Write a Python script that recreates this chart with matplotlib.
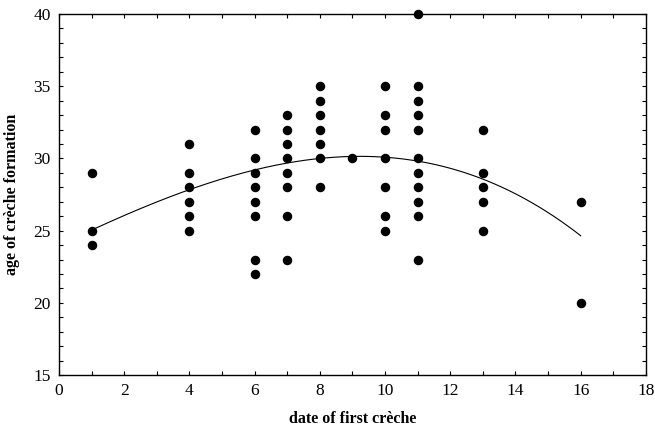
import numpy as np
import matplotlib
matplotlib.use("Agg")
import matplotlib.pyplot as plt
from matplotlib.ticker import MultipleLocator

# date of first creche (x) and age of creche formation (y)
date_first = [1, 1, 1,
              4, 4, 4, 4, 4, 4,
              6, 6, 6, 6, 6, 6, 6, 6,
              7, 7, 7, 7, 7, 7, 7, 7,
              8, 8, 8, 8, 8, 8, 8,
              9,
              10, 10, 10, 10, 10, 10, 10,
              11, 11, 11, 11, 11, 11, 11, 11, 11, 11, 11,
              13, 13, 13, 13, 13,
              16, 16]
age_formation = [29, 25, 24,
                 31, 29, 28, 27, 26, 25,
                 32, 30, 29, 28, 27, 26, 23, 22,
                 33, 32, 31, 30, 29, 28, 26, 23,
                 35, 34, 33, 32, 31, 30, 28,
                 30,
                 35, 33, 32, 30, 28, 26, 25,
                 40, 35, 34, 33, 32, 30, 29, 28, 27, 26, 23,
                 32, 29, 28, 27, 25,
                 27, 20]

# fitted trend line
curve_x = [1, 4, 6, 7, 8, 9, 10, 11, 13, 16]
curve_y = [25.0, 28.0, 29.04, 29.7, 30.0, 30.12, 30.08, 29.84, 28.6, 24.63]

plt.rcParams['font.family'] = ['Liberation Serif', 'DejaVu Serif']

fig = plt.figure(figsize=(6.55, 4.33), dpi=100)
ax = fig.add_axes([0.0901, 0.1339, 0.896, 0.8337])

co = np.polyfit(curve_x, curve_y, 3)
xs = np.linspace(curve_x[0], curve_x[-1], 200)
ax.plot(xs, np.polyval(co, xs), color='black', lw=0.8)

ax.scatter(date_first, age_formation, s=34, color='black', zorder=3, clip_on=False)

ax.set_xlim(0, 18)
ax.set_ylim(15, 40)
ax.xaxis.set_major_locator(MultipleLocator(2))
ax.xaxis.set_minor_locator(MultipleLocator(1))
ax.yaxis.set_major_locator(MultipleLocator(5))
ax.yaxis.set_minor_locator(MultipleLocator(1))
ax.tick_params(which='both', direction='in', top=True, right=True,
               labelsize=12.5, length=3, width=0.8)
ax.tick_params(which='major', pad=6)
for s in ax.spines.values():
    s.set_linewidth(1.0)

ax.set_xlabel('date of first crèche', fontsize=11.5, fontweight='bold')
ax.set_ylabel('age of crèche formation', fontsize=11.5, fontweight='bold')
ax.xaxis.set_label_coords(0.5, -36 / 361, transform=ax.transAxes)
ax.yaxis.set_label_coords(-39 / 587, 0.5, transform=ax.transAxes)

fig.savefig('out.png', dpi=100)
